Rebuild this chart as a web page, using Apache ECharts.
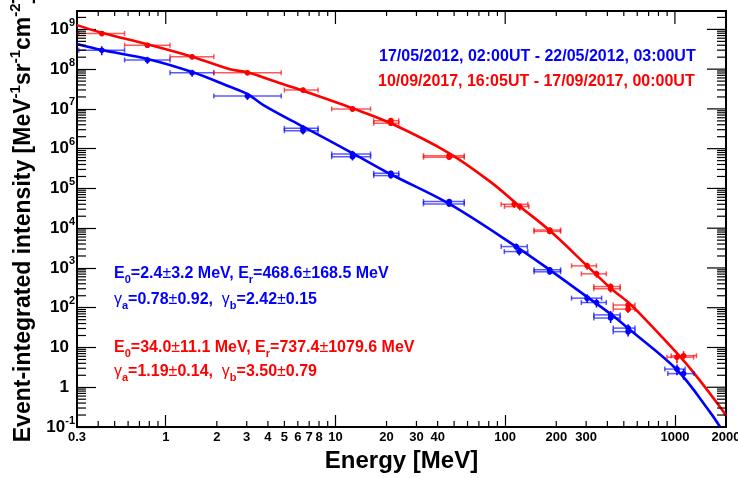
<!DOCTYPE html>
<html>
<head>
<meta charset="utf-8">
<script src="https://cdn.jsdelivr.net/npm/echarts@6/dist/echarts.min.js"></script>
<style>
  html, body { margin: 0; padding: 0; background: #fff; }
  #chart { width: 738px; height: 478px; }
</style>
</head>
<body>
<div id="chart"></div>
<script type="text/javascript">
	var FONT = 'Liberation Sans';

	// fit curves (energy in MeV, intensity)
	var blueCurveE = [0.3, 0.42, 0.78, 1.43, 2.39, 3.03, 3.76, 6.44, 12.65, 21.2, 46.9, 116, 183, 305, 424, 532, 1028, 1618, 1846];
	var blueCurveI = [4.28e8, 3.02e8, 1.80e8, 8.45e7, 3.61e7, 2.37e7, 1.25e7, 3.57e6, 7.66e5, 2.27e5, 4.08e4, 3.45e3, 896, 185, 66.4, 30, 2.75, 0.23, 0.1];
	var redCurveE = [0.3, 0.42, 0.78, 1.43, 2.39, 3.03, 4.73, 6.44, 12.65, 21.2, 46.9, 82.6, 119, 183, 304, 418, 532, 667, 1028, 1318, 1897, 2000];
	var redCurveI = [1.28e9, 8.2e8, 4.2e8, 2.05e8, 9.9e7, 8.3e7, 4.4e7, 2.86e7, 1.03e7, 4.35e6, 7.66e5, 1.42e5, 3.85e4, 8.7e3, 1.13e3, 310, 135, 51.8, 7.2, 2.08, 0.272, 0.19];

	// measured points: energy, bin low, bin high, intensity, relative error
	var bluePtE   = [0.42, 0.78, 1.43, 3.03, 6.44, 6.44, 12.6, 12.6, 21.2, 21.2, 46.8, 46.8, 116, 121, 183, 183, 304, 345, 418, 418, 530, 530, 1028, 1125];
	var bluePtLo  = [0.307, 0.572, 1.06, 1.92, 5.0, 5.0, 9.5, 9.5, 16.8, 16.8, 33, 33, 94.7, 98.8, 148, 148, 246, 281, 333, 333, 433, 433, 872, 908];
	var bluePtHi  = [0.572, 1.06, 1.92, 4.79, 7.9, 7.9, 16.1, 16.1, 23.6, 23.6, 57.4, 57.4, 135, 136, 212, 212, 370, 394, 476, 476, 582, 582, 1149, 1295];
	var bluePtI   = [3.0e8, 1.7e8, 8.1e7, 2.1e7, 3.25e6, 2.83e6, 7.36e5, 6.3e5, 2.41e5, 2.1e5, 4.66e4, 4.08e4, 3.45e3, 2.58e3, 900, 800, 174, 135, 66, 55, 30.7, 25, 2.86, 2.2];
	var bluePtErr = [0.25, 0.2, 0.2, 0.2, 0.2, 0.2, 0.2, 0.2, 0.15, 0.15, 0.15, 0.15, 0.2, 0.2, 0.15, 0.15, 0.25, 0.25, 0.25, 0.25, 0.25, 0.25, 0.3, 0.3];

	var redPtE   = [0.42, 0.78, 1.43, 3.03, 6.44, 12.6, 21.2, 21.2, 46.8, 46.8, 113, 122, 183, 183, 304, 345, 418, 418, 530, 530, 1028, 1125];
	var redPtLo  = [0.307, 0.572, 1.06, 1.92, 5.0, 9.5, 16.8, 16.8, 33, 33, 94.7, 99, 148, 148, 246, 281, 333, 333, 433, 433, 897, 950];
	var redPtHi  = [0.572, 1.06, 1.92, 4.79, 7.9, 16.1, 23.6, 23.6, 57.4, 57.4, 136, 138, 212, 212, 345, 394, 476, 476, 582, 582, 1289, 1340];
	var redPtI   = [7.9e8, 4.0e8, 2.05e8, 8.1e7, 2.97e7, 1.0e7, 5.06e6, 4.35e6, 6.67e5, 6.08e5, 4.0e4, 3.5e4, 9.0e3, 8.3e3, 1.13e3, 711, 340, 300, 117, 92, 5.7, 6.2];
	var redPtErr = [0.15, 0.15, 0.15, 0.15, 0.15, 0.15, 0.15, 0.15, 0.15, 0.15, 0.2, 0.2, 0.15, 0.15, 0.2, 0.2, 0.2, 0.2, 0.2, 0.2, 0.3, 0.3];

	// axis ticks and labels
	var xMin = 0.3, xMax = 2000, yMin = 0.1, yMax = 2.9e9;
	var xLabels = [0.3, 1, 2, 3, 4, 5, 6, 7, 8, 10, 20, 30, 40, 100, 200, 300, 1000, 2000];
	var xMajorTicks = [1, 10, 100, 1000];
	var xMinorTicks = [0.4, 0.5, 0.6, 0.7, 0.8, 0.9, 2, 3, 4, 5, 6, 7, 8, 9, 20, 30, 40, 50, 60, 70, 80, 90, 200, 300, 400, 500, 600, 700, 800, 900];
	var yLabels = [0.1, 1, 10, 100, 1e3, 1e4, 1e5, 1e6, 1e7, 1e8, 1e9];
	var yMinorTicks = [];
	for (var p = -1; p <= 9; p++) {
		for (var m = 2; m <= 9; m++) {
			if (m * Math.pow(10, p) < yMax) yMinorTicks.push(m * Math.pow(10, p));
		}
	}

	function zip(a, b) {
		return a.map(function (v, i) { return [v, b[i]]; });
	}
	function points(e, lo, hi, v, err) {
		return e.map(function (x, i) { return [x, lo[i], hi[i], v[i], err[i]]; });
	}

	function renderPoints(color, barColor) {
		return function (params, api) {
			var e = api.value(0), lo = api.value(1), hi = api.value(2), v = api.value(3), dv = api.value(4);
			var c = api.coord([e, v]);
			var l = api.coord([lo, v]);
			var h = api.coord([hi, v]);
			var d = api.coord([e, v * (1 - dv)]);
			var u = api.coord([e, v * (1 + dv)]);
			var st = { stroke: barColor, lineWidth: 1.5 };
			return {
				type: 'group',
				children: [
					{ type: 'line', shape: { x1: l[0], y1: c[1], x2: h[0], y2: c[1] }, style: st },
					{ type: 'line', shape: { x1: l[0], y1: c[1] - 2.5, x2: l[0], y2: c[1] + 2.5 }, style: st },
					{ type: 'line', shape: { x1: h[0], y1: c[1] - 2.5, x2: h[0], y2: c[1] + 2.5 }, style: st },
					{ type: 'line', shape: { x1: c[0], y1: u[1], x2: c[0], y2: d[1] }, style: { stroke: color, lineWidth: 1.5 } },
					{ type: 'circle', shape: { cx: c[0], cy: c[1], r: 2.8 }, style: { fill: color } }
				]
			};
		};
	}

	// frame ticks, one item per tick: [energy, intensity, kind]
	// kind 0/1: small/large x tick, kind 2/3: small/large y tick
	function renderTicks(params, api) {
		var xv = api.value(0), yv = api.value(1), kind = api.value(2);
		var st = { stroke: '#000', lineWidth: 1.2 };
		var kids = [];
		if (kind < 2) {
			var top = api.coord([xv, yMax]), bot = api.coord([xv, yMin]);
			kids.push({ type: 'line', shape: { x1: top[0], y1: top[1], x2: top[0], y2: top[1] + (kind === 1 ? 13 : 5) }, style: st });
			if (kind === 0) kids.push({ type: 'line', shape: { x1: bot[0], y1: bot[1], x2: bot[0], y2: bot[1] - 6 }, style: st });
		} else {
			var lft = api.coord([xMin, yv]), rgt = api.coord([xMax, yv]);
			kids.push({ type: 'line', shape: { x1: rgt[0], y1: rgt[1], x2: rgt[0] - (kind === 3 ? 19 : 9), y2: rgt[1] }, style: st });
			if (kind === 2) kids.push({ type: 'line', shape: { x1: lft[0], y1: lft[1], x2: lft[0] + 9, y2: lft[1] }, style: st });
		}
		return { type: 'group', children: kids };
	}
	var tickItems = [];
	xMinorTicks.forEach(function (v) { tickItems.push([v, 1, 0]); });
	xMajorTicks.forEach(function (v) { tickItems.push([v, 1, 1]); });
	yMinorTicks.forEach(function (v) { tickItems.push([1, v, 2]); });
	yLabels.forEach(function (v) { tickItems.push([1, v, 3]); });

	function fitRich(color) {
		return {
			b: { fontFamily: FONT, fontWeight: 'bold', fontSize: 16, fill: color, verticalAlign: 'middle' },
			n: { fontFamily: FONT, fontWeight: 'normal', fontSize: 16, fill: color, verticalAlign: 'middle' },
			s: { fontFamily: FONT, fontWeight: 'bold', fontSize: 11, fill: color, verticalAlign: 'bottom', padding: [12, 0, 0, 0] }
		};
	}
	function label(x, y, text, color, rich) {
		var st = { text: text, fill: color, font: 'bold 16px "' + FONT + '"' };
		if (rich) st.rich = fitRich(color);
		return { type: 'text', left: x, top: y, z: 10, style: st };
	}

	var chart = echarts.init(document.getElementById('chart'), null, { renderer: 'canvas' });
	chart.setOption({
		backgroundColor: '#fff',
		animation: false,
		grid: { left: 77, right: 12, top: 11, bottom: 51, containLabel: false, outerBoundsMode: 'none',
			show: true, borderColor: '#000', borderWidth: 2 },
		xAxis: {
			type: 'log', min: xMin, max: xMax, position: 'bottom',
			name: 'Energy [MeV]', nameLocation: 'middle', nameGap: 22, nameMoveOverlap: false,
			nameTextStyle: { fontFamily: FONT, fontWeight: 'bold', fontSize: 24, color: '#000' },
			axisLine: { show: true, onZero: false, lineStyle: { color: '#000', width: 2 } },
			axisTick: { show: true, inside: true, length: 12, customValues: xMajorTicks, lineStyle: { color: '#000', width: 1.2 } },
			axisLabel: {
				customValues: xLabels, margin: 4, hideOverlap: false,
				color: '#000', fontFamily: FONT, fontWeight: 'bold', fontSize: 13,
				formatter: function (v) { return String(Number(v.toPrecision(6))); }
			},
			splitLine: { show: false }, minorTick: { show: false }
		},
		yAxis: {
			type: 'log', min: yMin, max: yMax, position: 'left',
			name: '{t|Event-integrated intensity [MeV}{u|-1}{t|sr}{u|-1}{t|cm}{u|-2}{t|]}',
			nameLocation: 'middle', nameGap: 38, nameRotate: 90, nameMoveOverlap: false,
			nameTextStyle: {
				rich: {
					t: { fontFamily: FONT, fontWeight: 'bold', fontSize: 23, color: '#000', verticalAlign: 'middle' },
					u: { fontFamily: FONT, fontWeight: 'bold', fontSize: 15, color: '#000', verticalAlign: 'top', padding: [0, 0, 16, 0] }
				}
			},
			axisLine: { show: true, onZero: false, lineStyle: { color: '#000', width: 2 } },
			axisTick: { show: true, inside: true, length: 19, customValues: yLabels, lineStyle: { color: '#000', width: 1.2 } },
			axisLabel: {
				customValues: yLabels, margin: 2, hideOverlap: false,
				formatter: function (v) {
					var e = Math.round(Math.log10(v));
					if (e === 0) return '{b|1}{e| }';
					if (e === 1) return '{b|10}{e| }';
					return '{b|10}{s|' + e + '}';
				},
				rich: {
					b: { fontFamily: FONT, fontWeight: 'bold', fontSize: 17, color: '#000', verticalAlign: 'middle' },
					s: { fontFamily: FONT, fontWeight: 'bold', fontSize: 11, color: '#000', verticalAlign: 'top', padding: [0, 0, 13, 0] },
					e: { fontSize: 11, width: 6 }
				}
			},
			splitLine: { show: false }, minorTick: { show: false }
		},
		series: [
			{ type: 'line', name: 'fit 2012', data: zip(blueCurveE, blueCurveI), smooth: 0.35,
				symbol: 'none', clip: true, lineStyle: { color: '#0000ff', width: 2.6 }, z: 2 },
			{ type: 'line', name: 'fit 2017', data: zip(redCurveE, redCurveI), smooth: 0.35,
				symbol: 'none', clip: true, lineStyle: { color: '#ff0000', width: 2.6 }, z: 2 },
			{ type: 'custom', name: '2012', data: points(bluePtE, bluePtLo, bluePtHi, bluePtI, bluePtErr),
				encode: { x: 0, y: 3 }, renderItem: renderPoints('#0000ff', 'rgba(0,0,255,0.65)'), clip: true, z: 3 },
			{ type: 'custom', name: '2017', data: points(redPtE, redPtLo, redPtHi, redPtI, redPtErr),
				encode: { x: 0, y: 3 }, renderItem: renderPoints('#ff0000', 'rgba(255,0,0,0.65)'), clip: true, z: 3 },
			{ type: 'custom', name: 'frame ticks', data: tickItems, encode: { x: 0, y: 1 },
				renderItem: renderTicks, clip: true, z: 4 }
		],
		graphic: [
			label(379, 49, '17/05/2012, 02:00UT - 22/05/2012, 03:00UT', '#0000ff', false),
			label(378, 74, '10/09/2017, 16:05UT - 17/09/2017, 00:00UT', '#ff0000', false),
			label(114, 266, '{b|E}{s|0}{b|=2.4}{n|±}{b|3.2 MeV, E}{s|r}{b|=468.6}{n|±}{b|168.5 MeV}', '#0000ff', true),
			label(114, 292, '{n|γ}{s|a}{b|=0.78}{n|±}{b|0.92,  }{n|γ}{s|b}{b|=2.42}{n|±}{b|0.15}', '#0000ff', true),
			label(114, 340, '{b|E}{s|0}{b|=34.0}{n|±}{b|11.1 MeV, E}{s|r}{b|=737.4}{n|±}{b|1079.6 MeV}', '#ff0000', true),
			label(114, 364, '{n|γ}{s|a}{b|=1.19}{n|±}{b|0.14,  }{n|γ}{s|b}{b|=3.50}{n|±}{b|0.79}', '#ff0000', true)
		]
	});
</script>
</body>
</html>
